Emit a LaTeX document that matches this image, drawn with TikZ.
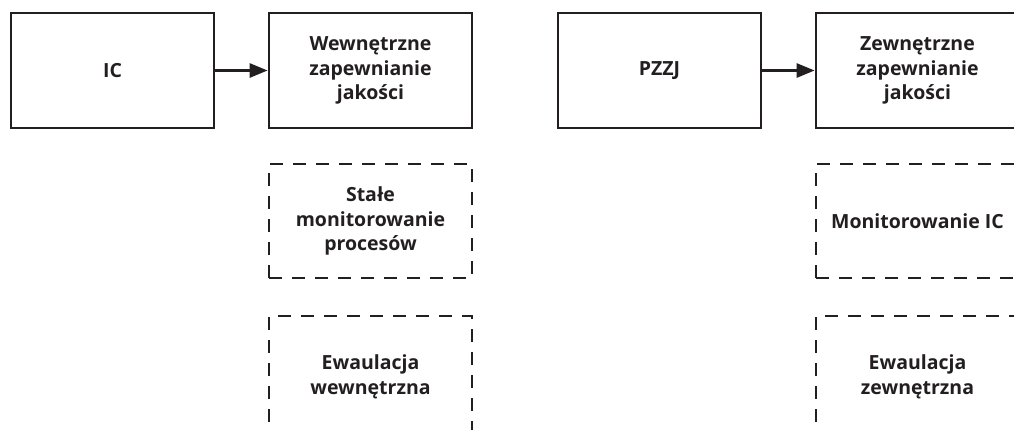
\documentclass[tikz,border=0pt]{standalone}
\usepackage{fontspec}
\setmainfont{Open Sans}
\usepackage{tikz}
\usetikzlibrary{arrows.meta, positioning}
\definecolor{ink}{HTML}{231F20}

\begin{document}
\begin{tikzpicture}[x=1pt, y=-1pt,
    box/.style={draw=ink, line width=2.8pt, minimum width=203pt, minimum height=115pt, inner sep=0pt,
        align=center, text=ink, font=\fontsize{19.5}{24.5}\selectfont\bfseries},
    dbox/.style={box, dash pattern=on 13pt off 10pt},
    arr/.style={draw=ink, line width=2.8pt, -{Triangle[length=18pt, width=14pt]}}]
    \useasboundingbox (0,0) rectangle (1014,429);

    \node[box] (ic) at (112.5,70.5) {IC};
    \node[box] (wzj) at (370.5,70.5) {Wewnętrzne\\zapewnianie\\jakości};
    \node[box] (pzzj) at (659.5,70.5) {PZZJ};
    \node[box] (zzj) at (917.5,70.5) {Zewnętrzne\\zapewnianie\\jakości};

    \node[dbox, minimum height=114pt] (smp) at (370.5,221) {Stałe\\monitorowanie\\procesów};
    \node[dbox, minimum height=122pt] (ew) at (370.5,377) {Ewaulacja\\wewnętrzna};
    \node[dbox, minimum height=114pt] (mic) at (917.5,221) {Monitorowanie IC};
    \node[dbox, minimum height=122pt] (ez) at (917.5,377) {Ewaulacja\\zewnętrzna};

    \draw[arr] (ic) -- (wzj);
    \draw[arr] (pzzj) -- (zzj);
\end{tikzpicture}
\end{document}
